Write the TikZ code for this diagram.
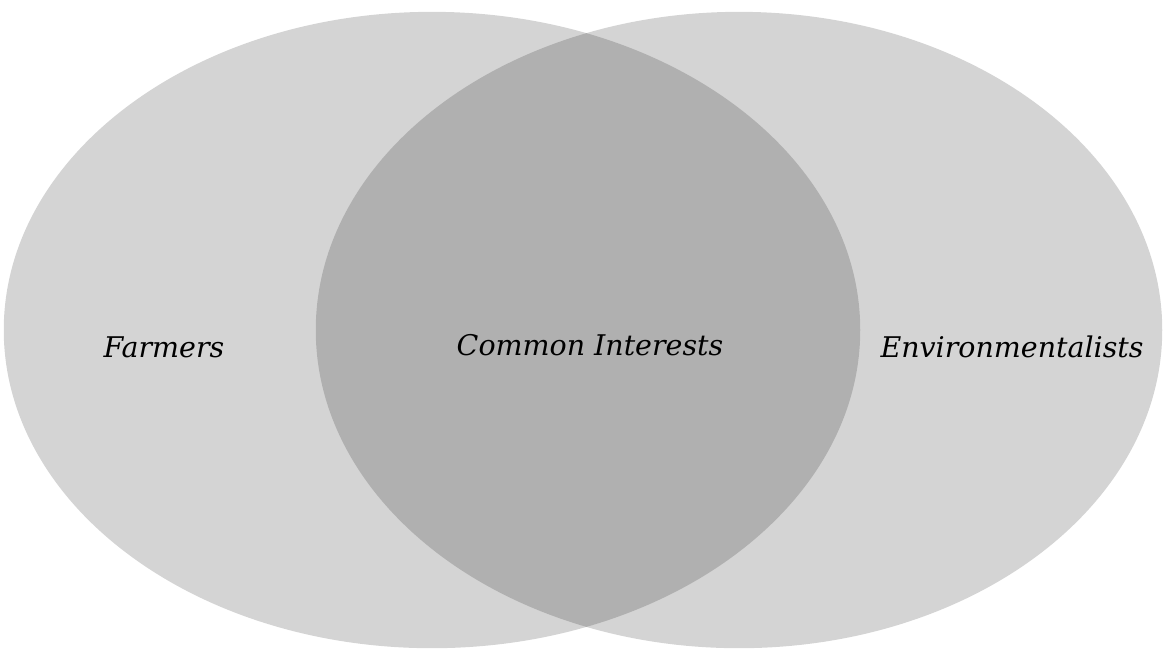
\documentclass[tikz,border=0pt]{standalone}
\usepackage{fontspec}
\setmainfont{DejaVu Serif}
\usetikzlibrary{shapes.geometric}

\begin{document}
\begin{tikzpicture}[x=0.01cm, y=-0.01cm,
    circ/.style={ellipse, fill=black, fill opacity=0.17, inner sep=0pt,
      minimum height=6.36cm},
    lbl/.style={font=\fontsize{8.1}{10}\selectfont\itshape, text opacity=1}]

  \useasboundingbox (0,0) rectangle (1166,650);

  \node[circ, minimum width=8.56cm] (farm) at (432,330) {};
  \node[circ, minimum width=8.46cm] (env) at (739,330) {};

  \node[lbl] (farmtxt) at (164,347) {Farmers};
  \node[lbl] (common) at (590,345) {Common Interests};
  \node[lbl] (envtxt) at (1012,347) {Environmentalists};
\end{tikzpicture}
\end{document}
